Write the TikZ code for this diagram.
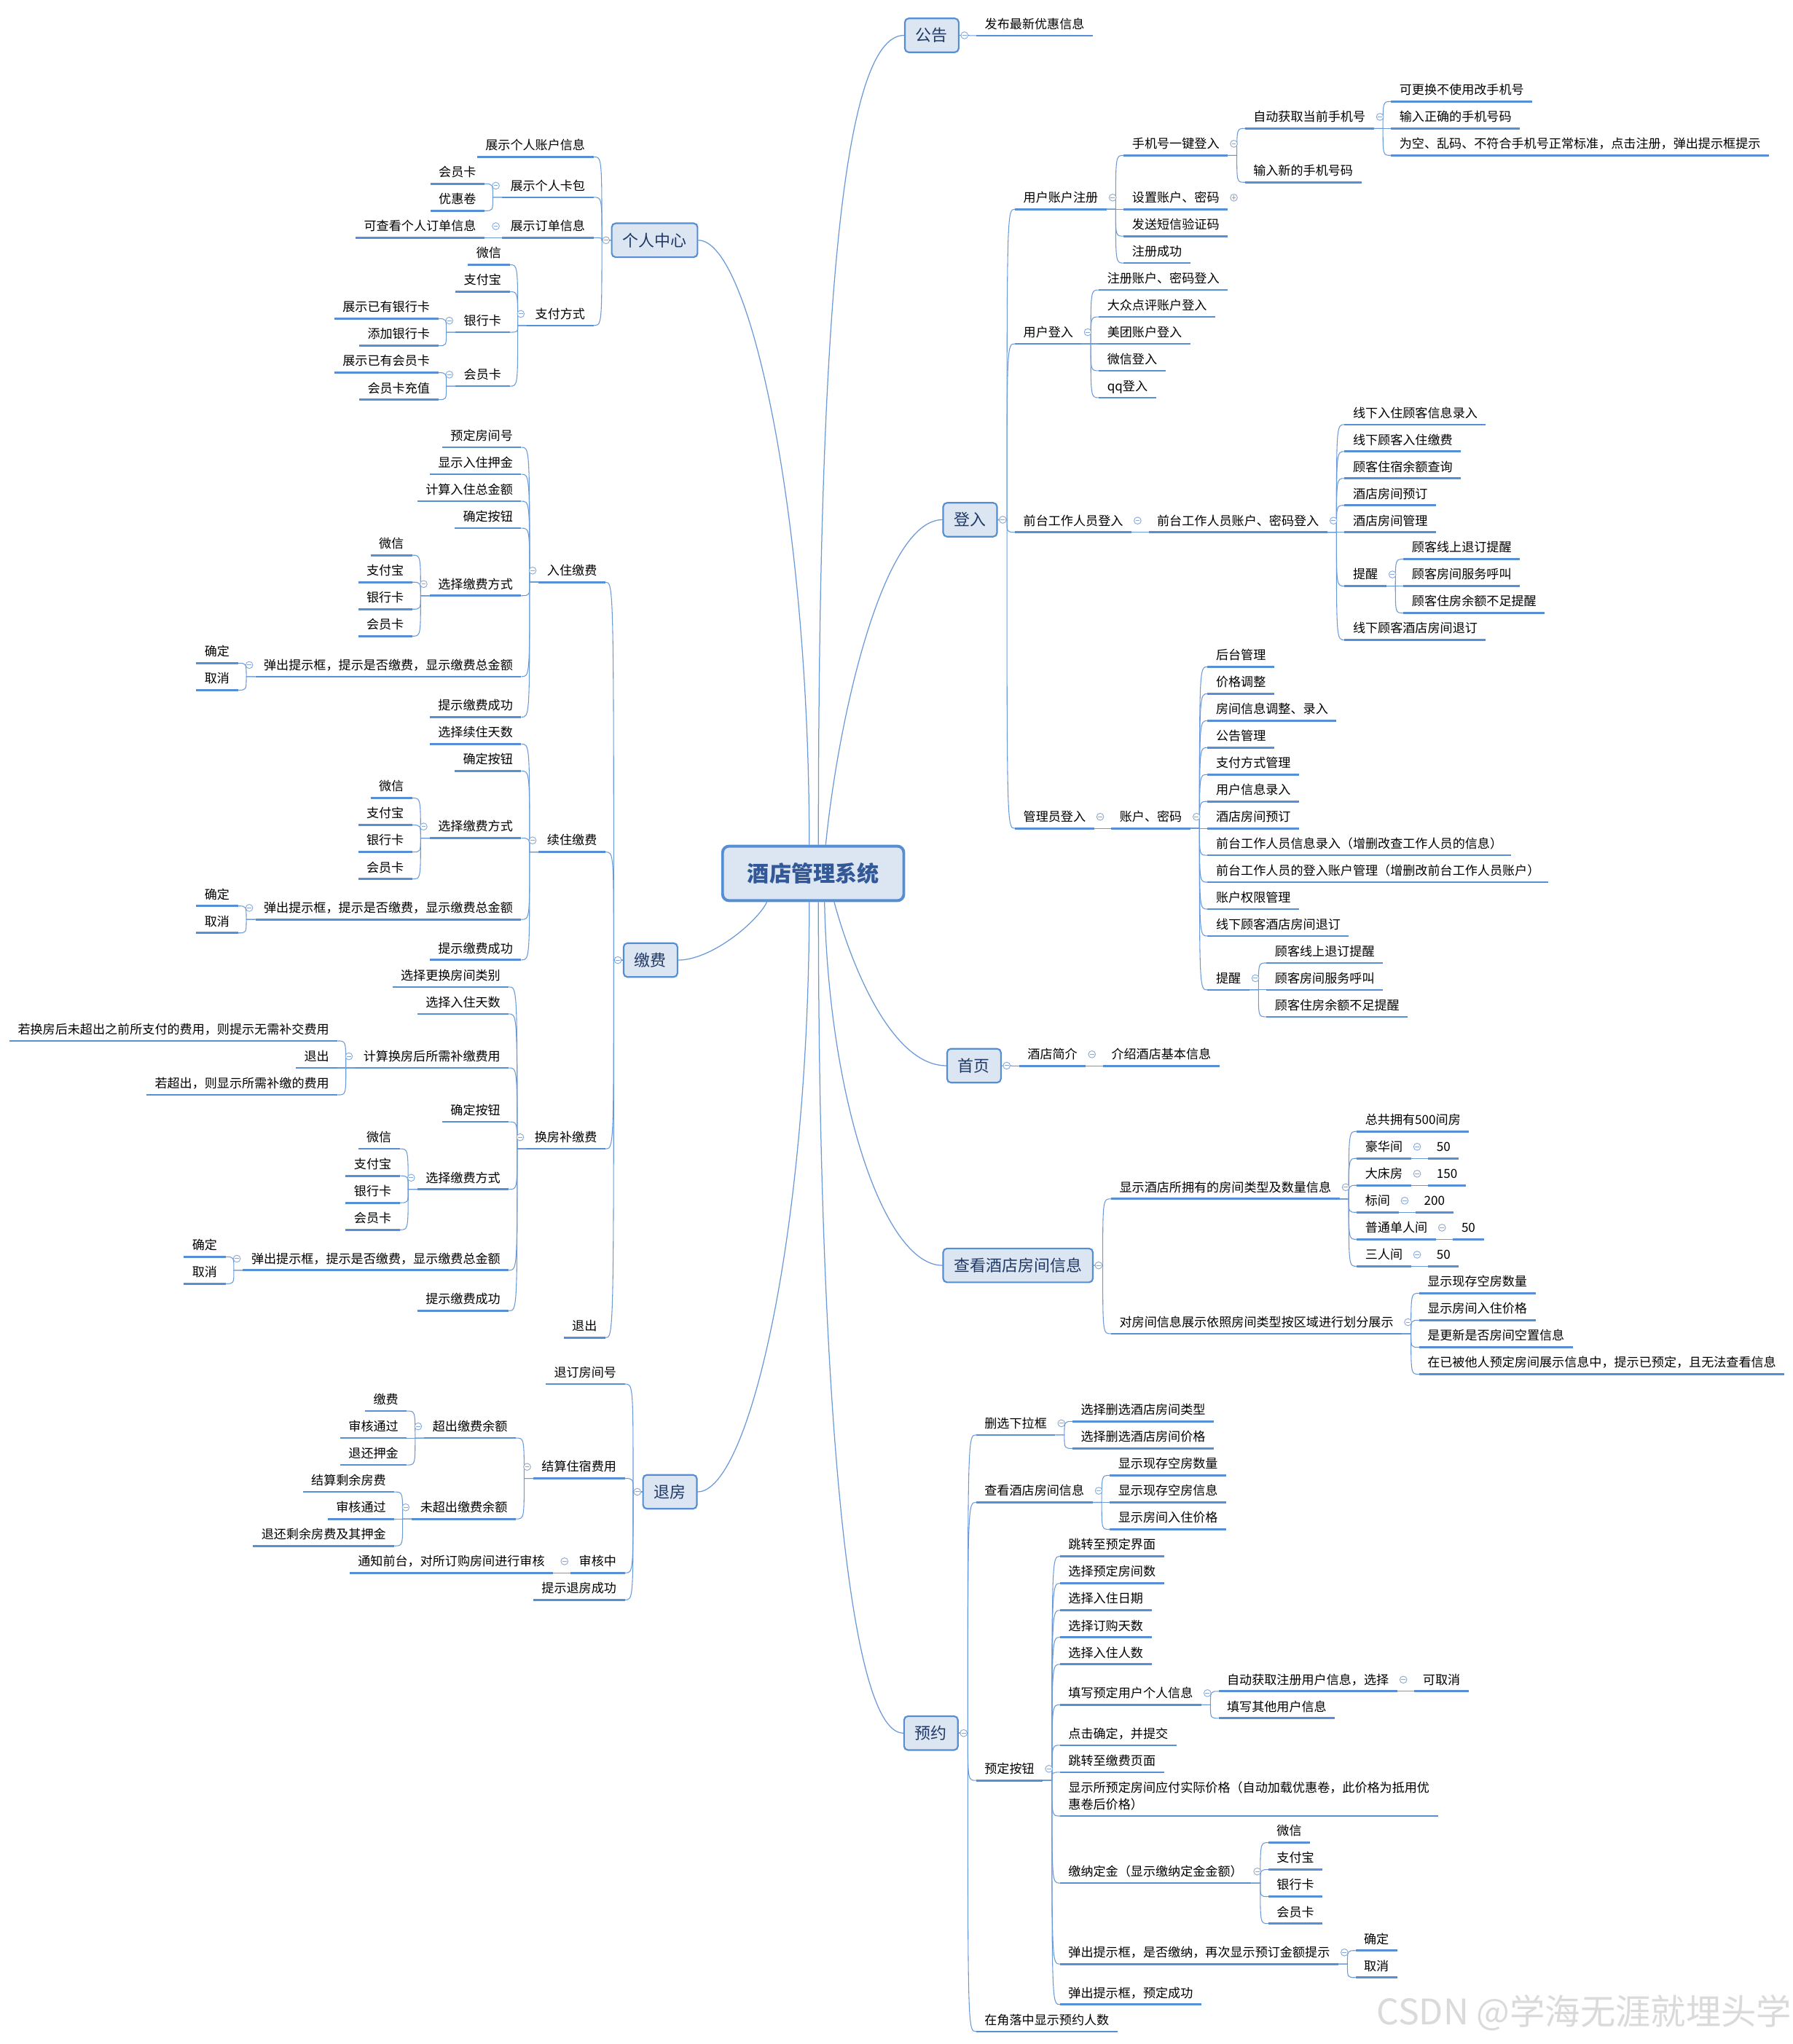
\documentclass[tikz,border=0pt]{standalone}
\usepackage{fontspec}
\setmainfont{Noto Sans CJK SC}
\usetikzlibrary{backgrounds}
\definecolor{ulc}{RGB}{88,142,214}
\definecolor{lnc}{RGB}{108,154,216}
\definecolor{bxd}{RGB}{86,142,212}
\definecolor{bxf}{RGB}{220,230,242}
\definecolor{bxt}{RGB}{31,56,100}
\definecolor{cxt}{RGB}{50,88,152}
\definecolor{mcol}{RGB}{135,168,214}
\definecolor{wmc}{RGB}{218,218,218}
\tikzset{
  uline/.style={draw=ulc, line width=1.5pt},
  ul/.style={append after command={(\tikzlastnode.south west) edge[uline] (\tikzlastnode.south east)}},
  tb/.style={font=\fontsize{9.55}{11}\selectfont, inner xsep=6.25pt, inner ysep=4.2pt, ul},
  tx/.style={tb, text height=8pt, text depth=1pt},
  R/.style={tx, anchor=west},
  L/.style={tx, anchor=east},
  R2/.style={tb, anchor=south west, align=left, font=\fontsize{9.55}{13.1}\selectfont},
  br/.style={draw=lnc, line width=0.6pt},
  mline/.style={draw=lnc, line width=0.7pt},
  mbox/.style={draw=bxd, fill=bxf, line width=1.2pt, rounded corners=3pt, minimum height=26pt, inner xsep=8.4pt, inner ysep=0pt, text height=10.5pt, text depth=1.2pt, font=\fontsize{12.25}{14}\selectfont, text=bxt},
  cbox/.style={draw=bxd, fill=bxf, line width=2.2pt, rounded corners=5pt, minimum width=139pt, minimum height=41.8pt, text height=14pt, text depth=1.2pt, font=\bfseries\fontsize{16.8}{20}\selectfont, text=cxt},
  mn/.style={circle, draw=mcol, fill=white, line width=0.5pt, minimum size=5.4pt, inner sep=0pt, outer sep=0pt,
    path picture={\draw[mcol, line width=0.55pt] ([xshift=-1.6pt]path picture bounding box.center) -- ([xshift=1.6pt]path picture bounding box.center);}},
  pn/.style={mn, path picture={\draw[mcol, line width=0.55pt] ([xshift=-1.6pt]path picture bounding box.center) -- ([xshift=1.6pt]path picture bounding box.center) ([yshift=-1.6pt]path picture bounding box.center) -- ([yshift=1.6pt]path picture bounding box.center);}},
}
\newcommand\RB[2]{\foreach \kid in {#2}{\draw[br] (#1.south east) -- ++(7,0) coordinate (tmpb) .. controls (tmpb |- \kid.south west) .. (\kid.south west);}\node[mn] (#1-m) at ([xshift=4.7pt]#1.east) {};}
\newcommand\LB[2]{\foreach \kid in {#2}{\draw[br] (#1.south west) -- ++(-7,0) coordinate (tmpb) .. controls (tmpb |- \kid.south east) .. (\kid.south east);}\node[mn] (#1-m) at ([xshift=-4.7pt]#1.west) {};}
\newcommand\RBM[2]{\foreach \kid in {#2}{\draw[br] (#1.east) -- ++(7,0) coordinate (tmpb) .. controls (tmpb |- \kid.south west) .. (\kid.south west);}\node[mn] (#1-m) at ([xshift=3.8pt]#1.east) {};}
\newcommand\LBM[2]{\foreach \kid in {#2}{\draw[br] (#1.west) -- ++(-7,0) coordinate (tmpb) .. controls (tmpb |- \kid.south east) .. (\kid.south east);}\node[mn] (#1-m) at ([xshift=-3.8pt]#1.west) {};}
\begin{document}
\begin{tikzpicture}[x=1pt,y=-1pt]
\useasboundingbox (0,0) rectangle (1375,1568);
% centre
\node[cbox] (c) at (623.7,670) {酒店管理系统};

% ===== 公告 =====
\node[mbox, anchor=east] (gg) at (735.9,27.1) {公告};
\node[R] (gg1) at (748.9,18.4) {发布最新优惠信息};
\RBM{gg}{gg1}

% ===== 登入 =====
\node[mbox, anchor=east] (dr) at (765.3,398.7) {登入};
\node[R] (zc) at (778.5,151.6) {用户账户注册};
\node[R] (sj) at (861.9,110.3) {手机号一键登入};
\node[R] (zd) at (954.85,89.65) {自动获取当前手机号};
\node[R] (zd1) at (1066.9,69) {可更换不使用改手机号};
\node[R] (zd2) at (1066.9,89.65) {输入正确的手机号码};
\node[R] (zd3) at (1066.9,110.3) {为空、乱码、不符合手机号正常标准，点击注册，弹出提示框提示};
\node[R] (xsj) at (954.85,130.95) {输入新的手机号码};
\node[R] (szmm) at (861.9,151.6) {设置账户、密码};
\node[R] (dx) at (861.9,172.25) {发送短信验证码};
\node[R] (zccg) at (861.9,192.9) {注册成功};
\node[R] (yhdr) at (778.5,254.85) {用户登入};
\node[R] (yd1) at (842.8,213.55) {注册账户、密码登入};
\node[R] (yd2) at (842.8,234.2) {大众点评账户登入};
\node[R] (yd3) at (842.8,254.85) {美团账户登入};
\node[R] (yd4) at (842.8,275.5) {微信登入};
\node[R] (yd5) at (842.8,296.15) {qq登入};
\node[R] (qt) at (778.5,399.4) {前台工作人员登入};
\node[R] (qtz) at (881,399.4) {前台工作人员账户、密码登入};
\node[R] (qt1) at (1031.25,316.8) {线下入住顾客信息录入};
\node[R] (qt2) at (1031.25,337.45) {线下顾客入住缴费};
\node[R] (qt3) at (1031.25,358.1) {顾客住宿余额查询};
\node[R] (qt4) at (1031.25,378.75) {酒店房间预订};
\node[R] (qt5) at (1031.25,399.4) {酒店房间管理};
\node[R] (qt6) at (1031.25,440.7) {提醒};
\node[R] (qt61) at (1076.45,420.05) {顾客线上退订提醒};
\node[R] (qt62) at (1076.45,440.7) {顾客房间服务呼叫};
\node[R] (qt63) at (1076.45,461.35) {顾客住房余额不足提醒};
\node[R] (qt7) at (1031.25,482) {线下顾客酒店房间退订};
\node[R] (gly) at (778.5,626.55) {管理员登入};
\node[R] (glz) at (852.35,626.55) {账户、密码};
\node[R] (gl1) at (926.2,502.65) {后台管理};
\node[R] (gl2) at (926.2,523.3) {价格调整};
\node[R] (gl3) at (926.2,543.95) {房间信息调整、录入};
\node[R] (gl4) at (926.2,564.6) {公告管理};
\node[R] (gl5) at (926.2,585.25) {支付方式管理};
\node[R] (gl6) at (926.2,605.9) {用户信息录入};
\node[R] (gl7) at (926.2,626.55) {酒店房间预订};
\node[R] (gl8) at (926.2,647.2) {前台工作人员信息录入（增删改查工作人员的信息）};
\node[R] (gl9) at (926.2,667.85) {前台工作人员的登入账户管理（增删改前台工作人员账户）};
\node[R] (gl10) at (926.2,688.5) {账户权限管理};
\node[R] (gl11) at (926.2,709.15) {线下顾客酒店房间退订};
\node[R] (gl12) at (926.2,750.45) {提醒};
\node[R] (gl121) at (971.4,729.8) {顾客线上退订提醒};
\node[R] (gl122) at (971.4,750.45) {顾客房间服务呼叫};
\node[R] (gl123) at (971.4,771.1) {顾客住房余额不足提醒};
\RBM{dr}{zc,yhdr,qt,gly}
\RB{zc}{sj,szmm,dx,zccg}
\RB{sj}{zd,xsj}
\RB{zd}{zd1,zd2,zd3}
\node[pn] (szmm-p) at ([xshift=4.7pt]szmm.east) {};
\RB{yhdr}{yd1,yd2,yd3,yd4,yd5}
\RB{qt}{qtz}
\RB{qtz}{qt1,qt2,qt3,qt4,qt5,qt6,qt7}
\RB{qt6}{qt61,qt62,qt63}
\RB{gly}{glz}
\RB{glz}{gl1,gl2,gl3,gl4,gl5,gl6,gl7,gl8,gl9,gl10,gl11,gl12}
\RB{gl12}{gl121,gl122,gl123}

% ===== 首页 =====
\node[mbox, anchor=east] (sy) at (768.3,817.5) {首页};
\node[R] (jj) at (781.7,808.8) {酒店简介};
\node[R] (jj1) at (846,808.8) {介绍酒店基本信息};
\RBM{sy}{jj}
\RB{jj}{jj1}

% ===== 查看酒店房间信息 =====
\node[mbox, anchor=east] (ck) at (838.8,970.7) {查看酒店房间信息};
\node[R] (lx) at (852.2,910.75) {显示酒店所拥有的房间类型及数量信息};
\node[R] (lx0) at (1040.65,859) {总共拥有500间房};
\node[R] (lx1) at (1040.65,879.7) {豪华间};
\node[R] (lx1v) at (1095.4,879.7) {50};
\node[R] (lx2) at (1040.65,900.4) {大床房};
\node[R] (lx2v) at (1095.4,900.4) {150};
\node[R] (lx3) at (1040.65,921.1) {标间};
\node[R] (lx3v) at (1085.85,921.1) {200};
\node[R] (lx4) at (1040.65,941.8) {普通单人间};
\node[R] (lx4v) at (1114.5,941.8) {50};
\node[R] (lx5) at (1040.65,962.5) {三人间};
\node[R] (lx5v) at (1095.4,962.5) {50};
\node[R] (qy) at (852.2,1014.25) {对房间信息展示依照房间类型按区域进行划分展示};
\node[R] (qy1) at (1088.4,983.2) {显示现存空房数量};
\node[R] (qy2) at (1088.4,1003.9) {显示房间入住价格};
\node[R] (qy3) at (1088.4,1024.6) {是更新是否房间空置信息};
\node[R] (qy4) at (1088.4,1045.3) {在已被他人预定房间展示信息中，提示已预定，且无法查看信息};
\RBM{ck}{lx,qy}
\RB{lx}{lx0,lx1,lx2,lx3,lx4,lx5}
\RB{lx1}{lx1v}
\RB{lx2}{lx2v}
\RB{lx3}{lx3v}
\RB{lx4}{lx4v}
\RB{lx5}{lx5v}
\RB{qy}{qy1,qy2,qy3,qy4}

% ===== 预约 =====
\node[mbox, anchor=east] (yy) at (735.3,1329.5) {预约};
\node[R] (sx) at (748.7,1091.85) {删选下拉框};
\node[R] (sx1) at (822.55,1081.5) {选择删选酒店房间类型};
\node[R] (sx2) at (822.55,1102.2) {选择删选酒店房间价格};
\node[R] (yck) at (748.7,1143.6) {查看酒店房间信息};
\node[R] (yck1) at (851.2,1122.9) {显示现存空房数量};
\node[R] (yck2) at (851.2,1143.6) {显示现存空房信息};
\node[R] (yck3) at (851.2,1164.3) {显示房间入住价格};
\node[R] (ydan) at (748.7,1356.9) {预定按钮};
\node[R] (ya1) at (813,1185) {跳转至预定界面};
\node[R] (ya2) at (813,1205.7) {选择预定房间数};
\node[R] (ya3) at (813,1226.4) {选择入住日期};
\node[R] (ya4) at (813,1247.1) {选择订购天数};
\node[R] (ya5) at (813,1267.8) {选择入住人数};
\node[R] (ya6) at (813,1298.85) {填写预定用户个人信息};
\node[R] (ya61) at (934.6,1288.5) {自动获取注册用户信息，选择};
\node[R] (ya611) at (1084.85,1288.5) {可取消};
\node[R] (ya62) at (934.6,1309.2) {填写其他用户信息};
\node[R] (ya7) at (813,1329.9) {点击确定，并提交};
\node[R] (ya8) at (813,1350.6) {跳转至缴费页面};
\node[R2] (ya9) at (813,1393.1) {显示所预定房间应付实际价格（自动加载优惠卷，此价格为抵用优\\惠卷后价格）};
\node[R] (ya10) at (813,1435.65) {缴纳定金（显示缴纳定金金额）};
\node[R] (ya101) at (972.8,1404.6) {微信};
\node[R] (ya102) at (972.8,1425.3) {支付宝};
\node[R] (ya103) at (972.8,1446) {银行卡};
\node[R] (ya104) at (972.8,1466.7) {会员卡};
\node[R] (ya11) at (813,1497.75) {弹出提示框，是否缴纳，再次显示预订金额提示};
\node[R] (ya111) at (1039.65,1487.4) {确定};
\node[R] (ya112) at (1039.65,1508.1) {取消};
\node[R] (ya12) at (813,1528.8) {弹出提示框，预定成功};
\node[R] (yjl) at (748.7,1549.5) {在角落中显示预约人数};
\RBM{yy}{sx,yck,ydan,yjl}
\RB{sx}{sx1,sx2}
\RB{yck}{yck1,yck2,yck3}
\RB{ydan}{ya1,ya2,ya3,ya4,ya5,ya6,ya7,ya8,ya9,ya10,ya11,ya12}
\RB{ya6}{ya61,ya62}
\RB{ya61}{ya611}
\RB{ya10}{ya101,ya102,ya103,ya104}
\RB{ya11}{ya111,ya112}

% ===== 个人中心 =====
\node[mbox, anchor=west] (gr) at (468.6,184.3) {个人中心};
\node[L] (gr1) at (455.2,111.4) {展示个人账户信息};
\node[L] (gr2) at (455.2,142.45) {展示个人卡包};
\node[L] (gr21) at (371.6,132.1) {会员卡};
\node[L] (gr22) at (371.6,152.8) {优惠卷};
\node[L] (gr3) at (455.2,173.5) {展示订单信息};
\node[L] (gr31) at (371.6,173.5) {可查看个人订单信息};
\node[L] (gr4) at (455.2,240.8) {支付方式};
\node[L] (gr41) at (390.9,194.2) {微信};
\node[L] (gr42) at (390.9,214.9) {支付宝};
\node[L] (gr43) at (390.9,245.95) {银行卡};
\node[L] (gr431) at (336.15,235.6) {展示已有银行卡};
\node[L] (gr432) at (336.15,256.3) {添加银行卡};
\node[L] (gr44) at (390.9,287.35) {会员卡};
\node[L] (gr441) at (336.15,277) {展示已有会员卡};
\node[L] (gr442) at (336.15,297.7) {会员卡充值};
\LBM{gr}{gr1,gr2,gr3,gr4}
\LB{gr2}{gr21,gr22}
\LB{gr3}{gr31}
\LB{gr4}{gr41,gr42,gr43,gr44}
\LB{gr43}{gr431,gr432}
\LB{gr44}{gr441,gr442}

% ===== 缴费 =====
\node[mbox, anchor=west] (jf) at (477.7,736.5) {缴费};
\node[L] (rz) at (464.3,437.7) {入住缴费};
\node[L] (rz1) at (399.8,334.2) {预定房间号};
\node[L] (rz2) at (399.8,354.9) {显示入住押金};
\node[L] (rz3) at (399.8,375.6) {计算入住总金额};
\node[L] (rz4) at (399.8,396.3) {确定按钮};
\node[L] (rz5) at (399.8,448.05) {选择缴费方式};
\node[L] (rz51) at (316.2,417) {微信};
\node[L] (rz52) at (316.2,437.7) {支付宝};
\node[L] (rz53) at (316.2,458.4) {银行卡};
\node[L] (rz54) at (316.2,479.1) {会员卡};
\node[L] (rz6) at (399.8,510.15) {弹出提示框，提示是否缴费，显示缴费总金额};
\node[L] (rz61) at (182.5,499.8) {确定};
\node[L] (rz62) at (182.5,520.5) {取消};
\node[L] (rz7) at (399.8,541.2) {提示缴费成功};
\node[L] (xz) at (464.3,644.7) {续住缴费};
\node[L] (xz1) at (399.8,561.9) {选择续住天数};
\node[L] (xz2) at (399.8,582.6) {确定按钮};
\node[L] (xz3) at (399.8,634.05) {选择缴费方式};
\node[L] (xz31) at (316.2,603.3) {微信};
\node[L] (xz32) at (316.2,624) {支付宝};
\node[L] (xz33) at (316.2,644.7) {银行卡};
\node[L] (xz34) at (316.2,665.4) {会员卡};
\node[L] (xz4) at (399.8,696.45) {弹出提示框，提示是否缴费，显示缴费总金额};
\node[L] (xz41) at (182.5,686.1) {确定};
\node[L] (xz42) at (182.5,706.8) {取消};
\node[L] (xz5) at (399.8,727.5) {提示缴费成功};
\node[L] (hf) at (464.3,872.4) {换房补缴费};
\node[L] (hf1) at (390.25,748.2) {选择更换房间类别};
\node[L] (hf2) at (390.25,768.9) {选择入住天数};
\node[L] (hf3) at (390.25,810.3) {计算换房后所需补缴费用};
\node[L] (hf31) at (258.9,789.6) {若换房后未超出之前所支付的费用，则提示无需补交费用};
\node[L] (hf32) at (258.9,810.3) {退出};
\node[L] (hf33) at (258.9,831) {若超出，则显示所需补缴的费用};
\node[L] (hf4) at (390.25,851.7) {确定按钮};
\node[L] (hf5) at (390.25,903.45) {选择缴费方式};
\node[L] (hf51) at (306.65,872.4) {微信};
\node[L] (hf52) at (306.65,893.1) {支付宝};
\node[L] (hf53) at (306.65,913.8) {银行卡};
\node[L] (hf54) at (306.65,934.5) {会员卡};
\node[L] (hf6) at (390.25,965.55) {弹出提示框，提示是否缴费，显示缴费总金额};
\node[L] (hf61) at (172.95,955.2) {确定};
\node[L] (hf62) at (172.95,975.9) {取消};
\node[L] (hf7) at (390.25,996.6) {提示缴费成功};
\node[L] (tc) at (464.3,1017.3) {退出};
\LBM{jf}{rz,xz,hf,tc}
\LB{rz}{rz1,rz2,rz3,rz4,rz5,rz6,rz7}
\LB{rz5}{rz51,rz52,rz53,rz54}
\LB{rz6}{rz61,rz62}
\LB{xz}{xz1,xz2,xz3,xz4,xz5}
\LB{xz3}{xz31,xz32,xz33,xz34}
\LB{xz4}{xz41,xz42}
\LB{hf}{hf1,hf2,hf3,hf4,hf5,hf6,hf7}
\LB{hf3}{hf31,hf32,hf33}
\LB{hf5}{hf51,hf52,hf53,hf54}
\LB{hf6}{hf61,hf62}

% ===== 退房 =====
\node[mbox, anchor=west] (tf) at (492.6,1144.4) {退房};
\node[L] (tf1) at (479.2,1052.8) {退订房间号};
\node[L] (tf2) at (479.2,1125.25) {结算住宿费用};
\node[L] (tf21) at (395.6,1094.2) {超出缴费余额};
\node[L] (tf211) at (312,1073.5) {缴费};
\node[L] (tf212) at (312,1094.2) {审核通过};
\node[L] (tf213) at (312,1114.9) {退还押金};
\node[L] (tf22) at (395.6,1156.3) {未超出缴费余额};
\node[L] (tf221) at (302.45,1135.6) {结算剩余房费};
\node[L] (tf222) at (302.45,1156.3) {审核通过};
\node[L] (tf223) at (302.45,1177) {退还剩余房费及其押金};
\node[L] (tf3) at (479.2,1197.7) {审核中};
\node[L] (tf31) at (424.25,1197.7) {通知前台，对所订购房间进行审核};
\node[L] (tf4) at (479.2,1218.4) {提示退房成功};
\LBM{tf}{tf1,tf2,tf3,tf4}
\LB{tf2}{tf21,tf22}
\LB{tf21}{tf211,tf212,tf213}
\LB{tf22}{tf221,tf222,tf223}
\LB{tf3}{tf31}

% watermark
\node[font=\fontsize{27}{30}\selectfont, text=wmc, inner sep=0pt] (wm) at (1215,1544) {CSDN @学海无涯就埋头学};

% main connectors (behind the boxes)
\begin{scope}[on background layer]
\fill[white] (0,0) rectangle (1375,1568);
\draw[mline] ([xshift=4pt]c.north) .. controls +(0,-380) and +(-50,0) .. (gg.west);
\draw[mline] ([xshift=9.6pt]c.north) .. controls +(10,-100) and +(-45,0) .. (dr.west);
\draw[mline] ([xshift=-3pt]c.north) .. controls +(0,-250) and +(40,0) .. (gr.east);
\draw[mline] ([xshift=-35.5pt]c.south) .. controls +(-8,16) and +(25,0) .. (jf.east);
\draw[mline] ([xshift=16.1pt]c.south) .. controls +(15,55) and +(-40,0) .. (sy.west);
\draw[mline] ([xshift=8.7pt]c.south) .. controls +(3,150) and +(-45,0) .. (ck.west);
\draw[mline] ([xshift=4pt]c.south) .. controls +(0,350) and +(-45,0) .. (yy.west);
\draw[mline] ([xshift=-3pt]c.south) .. controls +(0,250) and +(40,0) .. (tf.east);
\end{scope}
\end{tikzpicture}
\end{document}
